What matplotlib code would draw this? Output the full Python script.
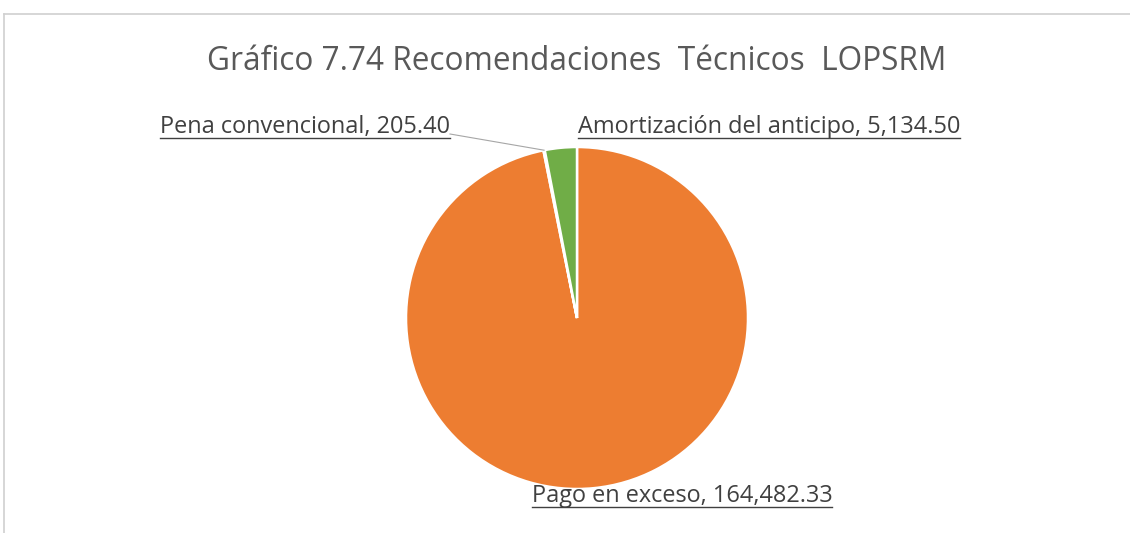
import matplotlib
matplotlib.use("Agg")
import matplotlib.pyplot as plt
from matplotlib.lines import Line2D
import numpy as np

title = "Gráfico 7.74 Recomendaciones  Técnicos  LOPSRM"
categories = ["Pago en exceso", "Pena convencional", "Amortización del anticipo"]
values = [164482.33, 205.40, 5134.50]
value_labels = ["164,482.33", "205.40", "5,134.50"]
colors = ["#ED7D31", "#4472C4", "#70AD47"]

W, H = 1130, 533
fig = plt.figure(figsize=(W / 100, H / 100), dpi=100)
fig.patch.set_facecolor("white")
FONT = ["Open Sans", "DejaVu Sans"]

# frame of chart area (top + left visible)
fig.add_artist(Line2D([4 / W, 4 / W], [0, 1 - 14 / H], transform=fig.transFigure, color="#d0d0d0", lw=1.2))
fig.add_artist(Line2D([4 / W, 1], [1 - 14 / H, 1 - 14 / H], transform=fig.transFigure, color="#d0d0d0", lw=1.2))

cx, cy, R = 577, 318, 171
half = 200
ax = fig.add_axes([(cx - half) / W, (H - cy - half) / H, 2 * half / W, 2 * half / H])
wedges, _ = ax.pie(values, colors=colors, startangle=90, counterclock=False, radius=1,
                   wedgeprops=dict(edgecolor="white", linewidth=1.8))
lim = half / R
ax.set_xlim(-lim, lim)
ax.set_ylim(-lim, lim)
ax.set_aspect("equal")
ax.axis("off")

fig.text(cx / W, 1 - 62 / H, title, ha="center", va="center", fontsize=22.8, color="#595959", family=FONT)

def px(x, y):
    return x / W, 1 - y / H

label_pos = {
    0: (682, 496, "center"),
    1: (160, 127, "left"),
    2: (578, 127, "left"),
}
texts = []
for i, (x, y, ha) in label_pos.items():
    t = fig.text(*px(x, y), f"{categories[i]}, {value_labels[i]}", ha=ha, va="center",
                 fontsize=16.9, color="#404040", family=FONT)
    texts.append(t)

fig.canvas.draw()
r = fig.canvas.get_renderer()
for t in texts:
    bb = t.get_window_extent(r)
    yline = bb.y0 + 1.5
    fig.add_artist(Line2D([bb.x0 / W, bb.x1 / W], [yline / H, yline / H], transform=fig.transFigure,
                          color="#404040", lw=1.0))

# leader line for Pena convencional
w = wedges[1]
ang = np.deg2rad((w.theta1 + w.theta2) / 2)
ex, ey = np.cos(ang), np.sin(ang)
bb = texts[1].get_window_extent(r)
disp = ax.transData.transform((ex, ey))
fig.add_artist(Line2D([bb.x1 / W, disp[0] / W], [(bb.y0 + 5) / H, disp[1] / H], transform=fig.transFigure,
                      color="#a6a6a6", lw=0.8))

fig.savefig("out.png", dpi=100, facecolor="white")
